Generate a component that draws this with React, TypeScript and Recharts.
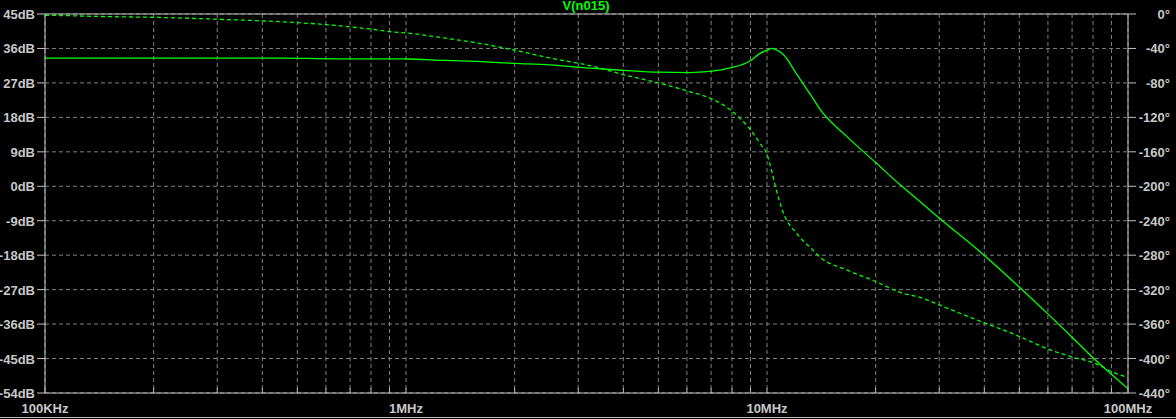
import { CartesianGrid, Line, LineChart, ReferenceLine, XAxis, YAxis } from "recharts";

// frequency in MHz
const freqs = [
  0.1, 0.11, 0.142, 0.214, 0.315, 0.457, 0.628, 0.775, 0.915, 1.0, 1.27, 1.57, 2.0, 2.5, 3.3, 4.0,
  5.0, 6.1, 6.95, 7.9, 9.0, 9.56, 10.0, 10.3, 10.5, 11.1, 12.1, 13.4, 14.0, 16.6, 20.1, 23.3, 27,
  30.1, 39.7, 49.2, 60.1, 69.8, 80.4, 91, 100,
];

// magnitude, dB
const magDb = [
  33.5, 33.5, 33.5, 33.5, 33.5, 33.5, 33.3, 33.3, 33.3, 33.25, 32.9, 32.6, 32.1, 31.7, 30.8, 30.3,
  29.8, 29.7, 30.0, 30.9, 32.8, 34.7, 35.5, 36.0, 35.8, 34.4, 29.2, 23.0, 20.2, 13.1, 6.0, 0.5, -4.6,
  -8.4, -17.8, -25.7, -33.4, -39.3, -45.0, -49.5, -52.9,
];

// phase, degrees
const phaseDeg = [
  -1.5, -1.75, -2.9, -4.1, -6.4, -9.1, -13, -16.9, -20.7, -22, -27.7, -33.5, -42, -51, -60.8, -70.4,
  -80, -90, -97.6, -111, -134.5, -150, -163, -182, -196.5, -231, -255, -274, -282, -297, -311, -323,
  -330, -338, -358, -373, -389, -398, -405, -416, -422,
];

const dbTicks = [45, 36, 27, 18, 9, 0, -9, -18, -27, -36, -45, -54];
const degTicks = [0, -40, -80, -120, -160, -200, -240, -280, -320, -360, -400, -440];
const decades = [0.1, 1, 10, 100];
const decadeLabels = ["100KHz", "1MHz", "10MHz", "100MHz"];

const freqTicks: number[] = [];
[0.1, 1, 10].forEach((d) => {
  for (let k = 1; k < 10; k++) freqTicks.push(+(d * k).toFixed(3));
});
freqTicks.push(100);

const data = freqs.map((f, i) => ({ f, mag: magDb[i], phase: phaseDeg[i] }));

const AXIS = "#c0c0c0";
const GRID = "#808080";
const TEXT = "#c8c8c8";
const TRACE = "#00ff00";
const FONT = "'Liberation Sans', Arial, sans-serif";

const W = 1176;
const H = 419;

function LeftTick({ x, y, payload }: any) {
  return (
    <text x={x} y={y} dy={5} textAnchor="end" fill={TEXT} fontSize={13} fontWeight="bold" fontFamily={FONT}>
      {payload.value}dB
    </text>
  );
}

function RightTick({ y, payload }: any) {
  return (
    <text x={1170} y={y} dy={5} textAnchor="end" fill={TEXT} fontSize={13} fontWeight="bold" fontFamily={FONT}>
      {payload.value}°
    </text>
  );
}

function BottomTick({ x, payload }: any) {
  const idx = decades.findIndex((d) => Math.abs(d - payload.value) < 1e-9);
  return (
    <g>
      <line x1={x} x2={x} y1={393} y2={388} stroke={AXIS} />
      {idx >= 0 && (
        <text x={x} y={413} textAnchor="middle" fill={TEXT} fontSize={13} fontWeight="bold" fontFamily={FONT}>
          {decadeLabels[idx]}
        </text>
      )}
    </g>
  );
}

export default function App() {
  return (
    <div style={{ position: "absolute", left: 0, top: 0, width: W, height: H, background: "#000" }}>
      <div
        style={{
          position: "absolute",
          left: 0,
          width: W,
          top: -1,
          textAlign: "center",
          color: TRACE,
          fontFamily: FONT,
          fontWeight: "bold",
          fontSize: 13,
          lineHeight: "14px",
          transform: "translateX(-2px)",
        }}
      >
        V(n015)
      </div>
      <LineChart width={W} height={H} data={data} margin={{ top: 14, right: 0, bottom: 0, left: 0 }}>
        <CartesianGrid stroke={GRID} strokeDasharray="4 3" />
        <XAxis
          dataKey="f"
          type="number"
          scale="log"
          domain={[0.1, 100]}
          ticks={freqTicks}
          allowDataOverflow
          height={26}
          axisLine={{ stroke: AXIS }}
          tickLine={false}
          tick={<BottomTick />}
          interval={0}
        />
        <YAxis
          type="number"
          domain={[-54, 45]}
          ticks={dbTicks}
          width={45}
          axisLine={{ stroke: AXIS }}
          tickLine={{ stroke: AXIS }}
          tickSize={8}
          tick={<LeftTick />}
          interval={0}
        />
        <YAxis
          yAxisId="phase"
          orientation="right"
          type="number"
          domain={[-440, 0]}
          ticks={degTicks}
          width={48}
          axisLine={{ stroke: AXIS }}
          tickLine={{ stroke: AXIS }}
          tickSize={8}
          tick={<RightTick />}
          interval={0}
        />
        <ReferenceLine y={45} stroke={AXIS} strokeDasharray="0" />
        <Line
          dataKey="mag"
          type="monotone"
          stroke={TRACE}
          strokeWidth={1.3}
          dot={false}
          isAnimationActive={false}
        />
        <Line
          dataKey="phase"
          yAxisId="phase"
          type="monotone"
          stroke={TRACE}
          strokeWidth={1.3}
          strokeDasharray="4 3"
          dot={false}
          isAnimationActive={false}
        />
      </LineChart>
      <div style={{ position: "absolute", left: 0, top: 417, width: W, height: 1, background: AXIS }} />
    </div>
  );
}
